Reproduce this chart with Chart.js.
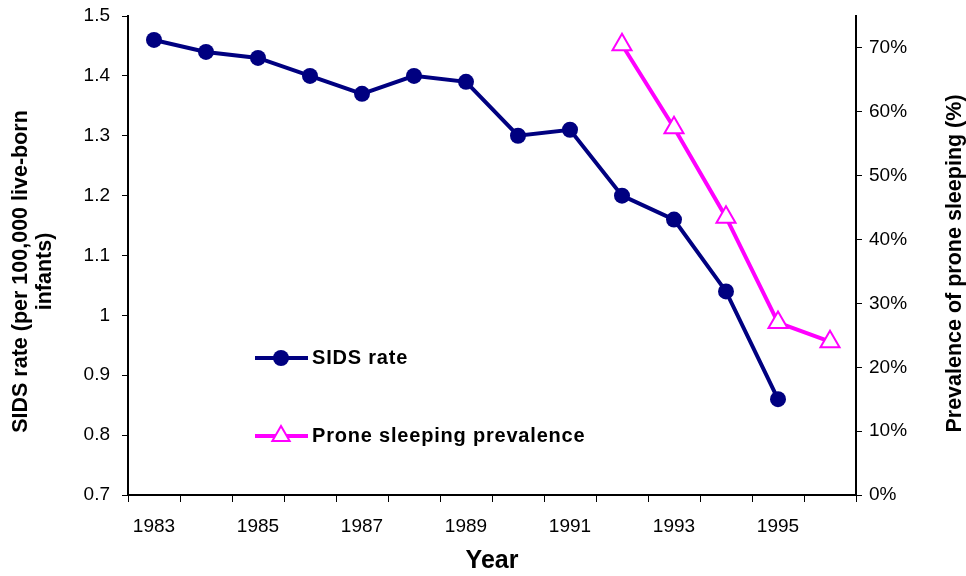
<!DOCTYPE html>
<html>
<head>
<meta charset="utf-8">
<script src="https://cdn.jsdelivr.net/npm/chart.js@4/dist/chart.umd.min.js"></script>
<style>
  html, body { margin: 0; padding: 0; background: #fff; }
  #wrap { width: 966px; height: 576px; position: relative; }
</style>
</head>
<body>
<div id="wrap"><canvas id="chart"></canvas></div>
<script>
// data
const years = ['1983', '1984', '1985', '1986', '1987', '1988', '1989', '1990',
  '1991', '1992', '1993', '1994', '1995', '1996'];
const sidsRate = [1.46, 1.44, 1.43, 1.40, 1.37, 1.40, 1.39, 1.30, 1.31, 1.20, 1.16, 1.04, 0.86, null];
const pronePrevalence = [null, null, null, null, null, null, null, null, null, 0.705, 0.575, 0.435, 0.27, 0.24];
const leftTicks = [0.7, 0.8, 0.9, 1.0, 1.1, 1.2, 1.3, 1.4, 1.5];
const rightTicks = [0, 0.1, 0.2, 0.3, 0.4, 0.5, 0.6, 0.7];
const leftTitle = ['SIDS rate (per 100,000 live-born', 'infants)'];
const rightTitle = 'Prevalence of prone sleeping (%)';

const NAVY = '#000080';
const MAGENTA = '#ff00ff';
const FONT = '"Liberation Sans", Arial, sans-serif';

Chart.defaults.font.family = FONT;
Chart.defaults.color = '#000';

function triangle(ctx, x, y, r) {
  let a = 0;
  ctx.moveTo(x + Math.sin(a) * r, y - Math.cos(a) * r);
  a += Math.PI * 2 / 3;
  ctx.lineTo(x + Math.sin(a) * r, y - Math.cos(a) * r);
  a += Math.PI * 2 / 3;
  ctx.lineTo(x + Math.sin(a) * r, y - Math.cos(a) * r);
  ctx.closePath();
}

// legend drawn inside the plot area, like the original
const innerLegend = {
  id: 'innerLegend',
  afterDatasetsDraw(chart) {
    const {ctx, chartArea} = chart;
    const x0 = chartArea.left + 127, x1 = chartArea.left + 180, mx = chartArea.left + 153;
    const tx = chartArea.left + 184;
    const rows = [
      {y: chartArea.top + 342, color: NAVY, label: chart.data.datasets[0].label, marker: 'circle'},
      {y: chartArea.top + 420, color: MAGENTA, label: chart.data.datasets[1].label, marker: 'triangle'}
    ];
    ctx.save();
    rows.forEach(r => {
      ctx.strokeStyle = r.color;
      ctx.lineWidth = 4;
      ctx.beginPath();
      ctx.moveTo(x0, r.y);
      ctx.lineTo(x1, r.y);
      ctx.stroke();
      ctx.beginPath();
      if (r.marker === 'circle') {
        ctx.fillStyle = r.color;
        ctx.arc(mx, r.y, 8, 0, Math.PI * 2);
        ctx.fill();
      } else {
        triangle(ctx, mx, r.y, 10);
        ctx.fillStyle = '#fff';
        ctx.fill();
        ctx.lineWidth = 2;
        ctx.stroke();
      }
      ctx.fillStyle = '#000';
      ctx.font = 'bold 20px ' + FONT;
      ctx.letterSpacing = '0.8px';
      ctx.textAlign = 'left';
      ctx.textBaseline = 'middle';
      ctx.fillText(r.label, tx, r.y);
    });
    ctx.restore();
  }
};

// rotated axis titles, placed like the original
const sideTitles = {
  id: 'sideTitles',
  afterDraw(chart) {
    const {ctx, chartArea, width} = chart;
    const midY = (chartArea.top + chartArea.bottom) / 2;
    ctx.save();
    ctx.fillStyle = '#000';
    ctx.font = 'bold 21.5px ' + FONT;
    ctx.textAlign = 'center';
    ctx.textBaseline = 'middle';
    leftTitle.forEach((line, i) => {
      ctx.save();
      ctx.translate(21 + i * 24, midY + 16);
      ctx.rotate(-Math.PI / 2);
      ctx.fillText(line, 0, 0);
      ctx.restore();
    });
    ctx.translate(width - 11, midY + 8);
    ctx.rotate(-Math.PI / 2);
    ctx.fillText(rightTitle, 0, 0);
    ctx.restore();
  }
};

// fixed axis boxes so the plot area sits where it does in the original
const fixBox = (w, h) => s => {
  if (w) s.width = w;
  if (h) s.height = h;
  s.paddingTop = 0;
  s.paddingBottom = 0;
  s.paddingLeft = 0;
  s.paddingRight = 0;
};

const ctx = document.getElementById('chart');
const chart = new Chart(ctx, {
  type: 'line',
  data: {
    labels: years,
    datasets: [{
      label: 'SIDS rate',
      data: sidsRate,
      yAxisID: 'y',
      borderColor: NAVY,
      backgroundColor: NAVY,
      borderWidth: 4,
      pointRadius: 8,
      pointBorderWidth: 0,
      pointBackgroundColor: NAVY,
      tension: 0
    }, {
      label: 'Prone sleeping prevalence',
      data: pronePrevalence,
      yAxisID: 'y2',
      borderColor: MAGENTA,
      backgroundColor: '#fff',
      borderWidth: 4,
      pointStyle: 'triangle',
      pointRadius: 11,
      pointBorderWidth: 2,
      pointBorderColor: MAGENTA,
      pointBackgroundColor: '#fff',
      tension: 0
    }]
  },
  options: {
    responsive: true,
    maintainAspectRatio: false,
    animation: false,
    layout: {padding: {top: 16}},
    plugins: {
      legend: {display: false},
      tooltip: {enabled: false}
    },
    scales: {
      x: {
        offset: true,
        grid: {drawOnChartArea: false, offset: true, tickLength: 7, color: '#000', lineWidth: 1},
        border: {color: '#000', width: 2},
        ticks: {
          autoSkip: false,
          maxRotation: 0,
          padding: 13,
          font: {size: 19},
          callback: (v, i) => i % 2 === 0 ? years[i] : ''
        },
        title: {display: true, text: 'Year', font: {size: 25, weight: 'bold'}, padding: {top: 0, bottom: 0}},
        afterFit: fixBox(0, 81)
      },
      y: {
        position: 'left',
        min: 0.7,
        max: 1.5,
        afterBuildTicks: s => { s.ticks = leftTicks.map(v => ({value: v})); },
        grid: {drawOnChartArea: false, tickLength: 6, color: '#000'},
        border: {color: '#000', width: 2},
        ticks: {padding: 12, font: {size: 19}, callback: v => String(+v.toFixed(1))},
        afterFit: fixBox(128, 0)
      },
      y2: {
        position: 'right',
        min: 0,
        max: 0.75,
        afterBuildTicks: s => { s.ticks = rightTicks.map(v => ({value: v})); },
        grid: {drawOnChartArea: false, tickLength: 6, color: '#000'},
        border: {color: '#000', width: 2},
        ticks: {padding: 7, font: {size: 19}, callback: v => Math.round(v * 100) + '%'},
        afterFit: fixBox(110, 0)
      }
    }
  },
  plugins: [innerLegend, sideTitles]
});
</script>
</body>
</html>
